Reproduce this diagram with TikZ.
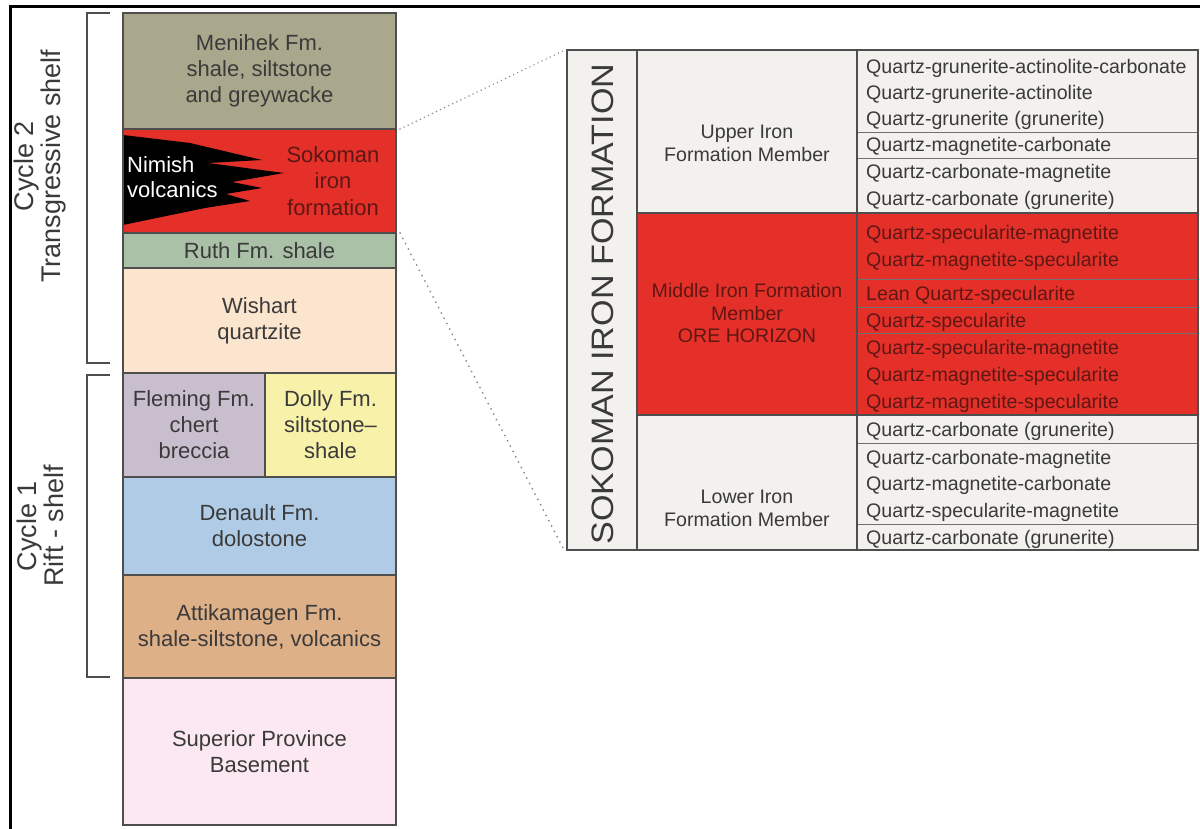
\documentclass[tikz,border=0pt]{standalone}
\usepackage{fontspec}
\setmainfont{Liberation Sans}
\definecolor{edge}{HTML}{4E4E4E}
\definecolor{txt}{HTML}{3A3A3A}
\definecolor{redtxt}{HTML}{5E1713}
\definecolor{cMen}{HTML}{A9A78C}
\definecolor{cRed}{HTML}{E5302A}
\definecolor{cRuth}{HTML}{AAC1A8}
\definecolor{cWish}{HTML}{FCE5CE}
\definecolor{cFlem}{HTML}{C9BECD}
\definecolor{cDolly}{HTML}{F8F1AA}
\definecolor{cDen}{HTML}{B0CBE5}
\definecolor{cAtt}{HTML}{DEB087}
\definecolor{cBase}{HTML}{FCE8F0}
\definecolor{cTab}{HTML}{F3F1ED}
\definecolor{dots}{HTML}{8A8A8A}
\begin{document}
\begin{tikzpicture}[x=1pt,y=-1pt,
  layer/.style={draw=edge, line width=1.8, inner sep=0pt, outer sep=0pt, anchor=north west,
    align=center, text=txt, font={\fontsize{22}{26}\selectfont}},
  cell/.style={inner sep=0pt, outer sep=0pt, anchor=north west, fill=cTab},
  edgeline/.style={draw=edge, line width=1.8},
  rowline/.style={draw=edge!80, line width=0.9},
  bracket/.style={draw=edge, line width=1.8},
  cyc/.style={rotate=90, align=center, text=txt, font={\fontsize{27}{27}\selectfont}},
  memb/.style={align=center, text=txt, font={\fontsize{19.6}{23}\selectfont}},
  rowtxt/.style={anchor=base west, inner sep=0pt, text=txt, font={\fontsize{19.6}{23}\selectfont}},
  redrow/.style={rowtxt, text=redtxt},
  dotline/.style={draw=dots, line width=2, dash pattern=on 0pt off 6pt, line cap=round}
]
\useasboundingbox (0,0) rectangle (1200,829);
\fill[white] (0,0) rectangle (1200,829);
% frame
\draw[black, line width=3] (10,829) -- (10,7) -- (1200,7);

% ---- left column ----
\node[layer, fill=cMen, minimum width=273, minimum height=116] (men) at (123,13)
  {Menihek Fm.\\shale, siltstone\\and greywacke};
\node[layer, fill=cRed, minimum width=273, minimum height=104] (sok) at (123,129) {};
\fill[black] (123,135) -- (190,143) -- (262,160) -- (208,163) -- (284,173) -- (232,182)
  -- (262,188) -- (226,194) -- (250,201) -- (205,208) -- (123,225) -- cycle;
\draw[edgeline] (sok.north west) rectangle (sok.south east);
\node[align=left, text=white, inner sep=0pt, anchor=west, font={\fontsize{22}{25}\selectfont}] (nim) at (127,177)
  {Nimish\\volcanics};
\node[align=center, text=redtxt, inner sep=0pt, font={\fontsize{22}{26.5}\selectfont}] (soktxt) at (333,181)
  {Sokoman\\iron\\formation};
\node[layer, fill=cRuth, minimum width=273, minimum height=35] (ruth) at (123,233)
  {Ruth Fm. shale};
\node[layer, fill=cWish, minimum width=273, minimum height=105] (wish) at (123,268)
  {Wishart\\quartzite};
\node[layer, fill=cFlem, minimum width=142, minimum height=104] (flem) at (123,373)
  {Fleming Fm.\\chert\\breccia};
\node[layer, fill=cDolly, minimum width=131, minimum height=104] (dolly) at (265,373)
  {Dolly Fm.\\siltstone--\\shale};
\node[layer, fill=cDen, minimum width=273, minimum height=98] (den) at (123,477)
  {Denault Fm.\\dolostone};
\node[layer, fill=cAtt, minimum width=273, minimum height=103] (att) at (123,575)
  {Attikamagen Fm.\\shale-siltstone, volcanics};
\node[layer, fill=cBase, minimum width=273, minimum height=147] (base) at (123,678)
  {Superior Province\\Basement};

% brackets and cycle labels
\draw[bracket] (110,13) -- (87,13) -- (87,363) -- (110,363);
\draw[bracket] (110,375) -- (87,375) -- (87,677) -- (110,677);
\node[cyc] (c2) at (40,166) {Cycle 2\\Transgressive shelf};
\node[cyc] (c1) at (40,526) {Cycle 1\\Rift - shelf};

% ---- table ----
\node[cell, minimum width=631, minimum height=500] (tbl) at (567,50) {};
\fill[cRed] (637,213) rectangle (1198,415);
\foreach \yy in {132,158,279,307,333,443,524} \draw[rowline] (857,\yy) -- (1198,\yy);
\draw[edgeline] (637,50) -- (637,550);
\draw[edgeline] (857,50) -- (857,550);
\draw[edgeline] (637,213) -- (1198,213);
\draw[edgeline] (637,415) -- (1198,415);
\draw[edgeline] (tbl.north west) rectangle (tbl.south east);

\node[rotate=90, text=txt, inner sep=0pt, font={\fontsize{31}{31}\selectfont}] (sokhead) at (603,304)
  {\scalebox{1.1}[1]{SOKOMAN IRON FORMATION}};

\node[memb] (upper) at (747,143) {Upper Iron\\Formation Member};
\node[memb, text=redtxt, font={\fontsize{19.6}{22.5}\selectfont}] (middle) at (747,313)
  {Middle Iron Formation\\Member\\ORE HORIZON};
\node[memb] (lower) at (747,508) {Lower Iron\\Formation Member};

\node[rowtxt] (r1) at (866,74) {Quartz-grunerite-actinolite-carbonate};
\node[rowtxt] (r2) at (866,100) {Quartz-grunerite-actinolite};
\node[rowtxt] (r3) at (866,126) {Quartz-grunerite (grunerite)};
\node[rowtxt] (r4) at (866,152) {Quartz-magnetite-carbonate};
\node[rowtxt] (r5) at (866,179) {Quartz-carbonate-magnetite};
\node[rowtxt] (r6) at (866,206) {Quartz-carbonate (grunerite)};
\node[redrow] (r7) at (866,240) {Quartz-specularite-magnetite};
\node[redrow] (r8) at (866,267) {Quartz-magnetite-specularite};
\node[redrow] (r9) at (866,300) {Lean Quartz-specularite};
\node[redrow] (r10) at (866,327) {Quartz-specularite};
\node[redrow] (r11) at (866,354) {Quartz-specularite-magnetite};
\node[redrow] (r12) at (866,381) {Quartz-magnetite-specularite};
\node[redrow] (r13) at (866,408) {Quartz-magnetite-specularite};
\node[rowtxt] (r14) at (866,436) {Quartz-carbonate (grunerite)};
\node[rowtxt] (r15) at (866,464) {Quartz-carbonate-magnetite};
\node[rowtxt] (r16) at (866,490) {Quartz-magnetite-carbonate};
\node[rowtxt] (r17) at (866,517) {Quartz-specularite-magnetite};
\node[rowtxt] (r18) at (866,544) {Quartz-carbonate (grunerite)};

% dotted connectors
\draw[dotline, line width=1.6, dash pattern=on 0pt off 4.5pt] ([xshift=4pt]sok.north east) -- ([xshift=-2pt]tbl.north west);
\draw[dotline] ([xshift=4pt]sok.south east) -- ([xshift=-3pt]tbl.south west);
\end{tikzpicture}
\end{document}
